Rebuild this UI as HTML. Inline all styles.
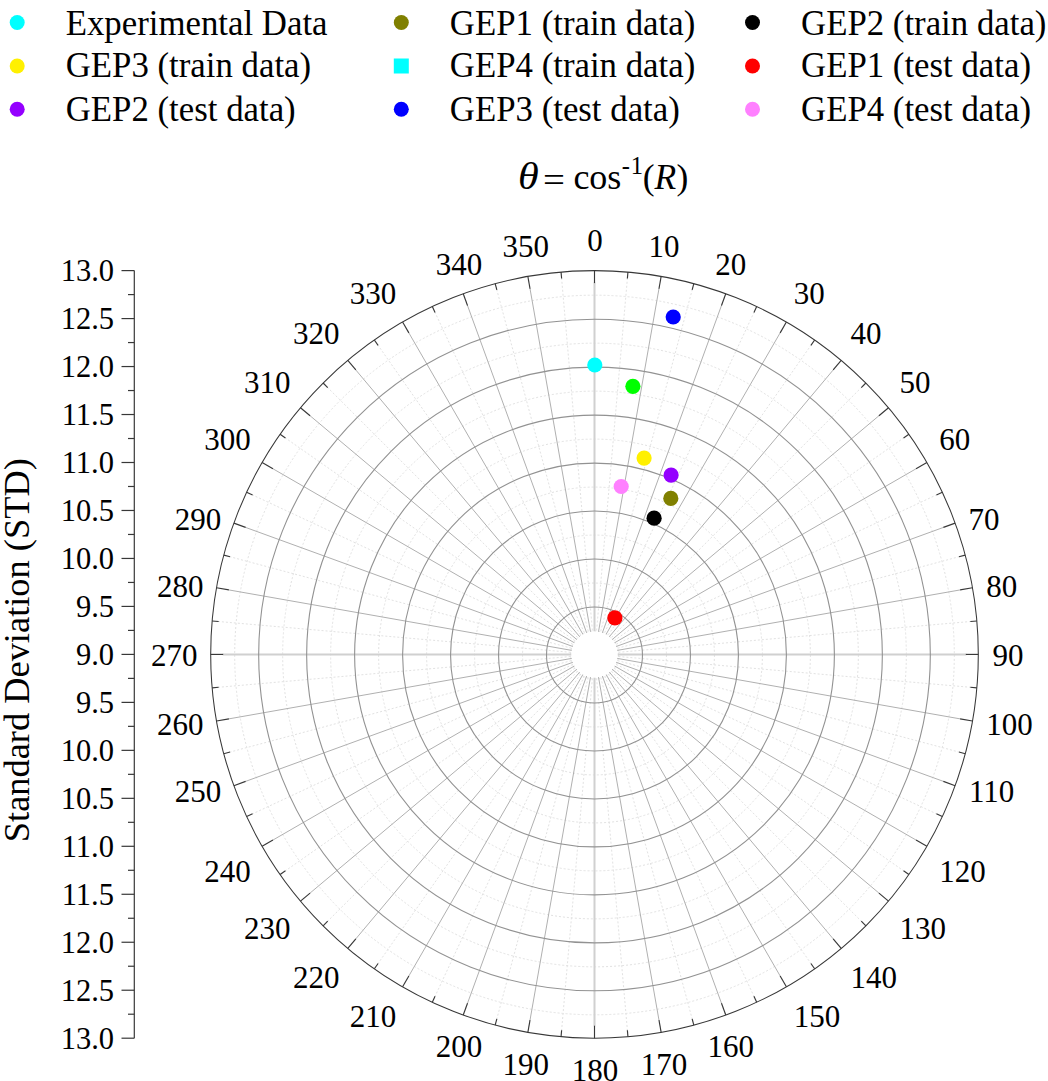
<!DOCTYPE html><html><head><meta charset="utf-8"><style>
html,body{margin:0;padding:0;background:#fff;}
svg{display:block;}
text{font-family:"Liberation Serif",serif;fill:#000;}
</style></head><body>
<svg width="1048" height="1081" viewBox="0 0 1048 1081">
<circle cx="594.5" cy="655.00" r="23.99" fill="none" stroke="#e2e2e2" stroke-width="1" stroke-dasharray="2,2"/>
<circle cx="594.5" cy="655.00" r="71.96" fill="none" stroke="#e2e2e2" stroke-width="1" stroke-dasharray="2,2"/>
<circle cx="594.5" cy="655.00" r="119.94" fill="none" stroke="#e2e2e2" stroke-width="1" stroke-dasharray="2,2"/>
<circle cx="594.5" cy="655.00" r="167.91" fill="none" stroke="#e2e2e2" stroke-width="1" stroke-dasharray="2,2"/>
<circle cx="594.5" cy="655.00" r="215.89" fill="none" stroke="#e2e2e2" stroke-width="1" stroke-dasharray="2,2"/>
<circle cx="594.5" cy="655.00" r="263.86" fill="none" stroke="#e2e2e2" stroke-width="1" stroke-dasharray="2,2"/>
<circle cx="594.5" cy="655.00" r="311.84" fill="none" stroke="#e2e2e2" stroke-width="1" stroke-dasharray="2,2"/>
<circle cx="594.5" cy="655.00" r="359.81" fill="none" stroke="#e2e2e2" stroke-width="1" stroke-dasharray="2,2"/>
<line x1="596.59" y1="630.49" x2="627.43" y2="278.04" stroke="#e2e2e2" stroke-width="1" stroke-dasharray="2,2"/>
<line x1="600.71" y1="631.22" x2="692.28" y2="289.47" stroke="#e2e2e2" stroke-width="1" stroke-dasharray="2,2"/>
<line x1="604.64" y1="632.65" x2="754.17" y2="312.00" stroke="#e2e2e2" stroke-width="1" stroke-dasharray="2,2"/>
<line x1="608.27" y1="634.74" x2="811.20" y2="344.92" stroke="#e2e2e2" stroke-width="1" stroke-dasharray="2,2"/>
<line x1="611.47" y1="637.43" x2="861.64" y2="387.26" stroke="#e2e2e2" stroke-width="1" stroke-dasharray="2,2"/>
<line x1="614.16" y1="640.63" x2="903.98" y2="437.70" stroke="#e2e2e2" stroke-width="1" stroke-dasharray="2,2"/>
<line x1="616.25" y1="644.26" x2="936.90" y2="494.73" stroke="#e2e2e2" stroke-width="1" stroke-dasharray="2,2"/>
<line x1="617.68" y1="648.19" x2="959.43" y2="556.62" stroke="#e2e2e2" stroke-width="1" stroke-dasharray="2,2"/>
<line x1="618.41" y1="652.31" x2="970.86" y2="621.47" stroke="#e2e2e2" stroke-width="1" stroke-dasharray="2,2"/>
<line x1="618.41" y1="656.49" x2="970.86" y2="687.33" stroke="#e2e2e2" stroke-width="1" stroke-dasharray="2,2"/>
<line x1="617.68" y1="660.61" x2="959.43" y2="752.18" stroke="#e2e2e2" stroke-width="1" stroke-dasharray="2,2"/>
<line x1="616.25" y1="664.54" x2="936.90" y2="814.07" stroke="#e2e2e2" stroke-width="1" stroke-dasharray="2,2"/>
<line x1="614.16" y1="668.17" x2="903.98" y2="871.10" stroke="#e2e2e2" stroke-width="1" stroke-dasharray="2,2"/>
<line x1="611.47" y1="671.37" x2="861.64" y2="921.54" stroke="#e2e2e2" stroke-width="1" stroke-dasharray="2,2"/>
<line x1="608.27" y1="674.06" x2="811.20" y2="963.88" stroke="#e2e2e2" stroke-width="1" stroke-dasharray="2,2"/>
<line x1="604.64" y1="676.15" x2="754.17" y2="996.80" stroke="#e2e2e2" stroke-width="1" stroke-dasharray="2,2"/>
<line x1="600.71" y1="677.58" x2="692.28" y2="1019.33" stroke="#e2e2e2" stroke-width="1" stroke-dasharray="2,2"/>
<line x1="596.59" y1="678.31" x2="627.43" y2="1030.76" stroke="#e2e2e2" stroke-width="1" stroke-dasharray="2,2"/>
<line x1="592.41" y1="678.31" x2="561.57" y2="1030.76" stroke="#e2e2e2" stroke-width="1" stroke-dasharray="2,2"/>
<line x1="588.29" y1="677.58" x2="496.72" y2="1019.33" stroke="#e2e2e2" stroke-width="1" stroke-dasharray="2,2"/>
<line x1="584.36" y1="676.15" x2="434.83" y2="996.80" stroke="#e2e2e2" stroke-width="1" stroke-dasharray="2,2"/>
<line x1="580.73" y1="674.06" x2="377.80" y2="963.88" stroke="#e2e2e2" stroke-width="1" stroke-dasharray="2,2"/>
<line x1="577.53" y1="671.37" x2="327.36" y2="921.54" stroke="#e2e2e2" stroke-width="1" stroke-dasharray="2,2"/>
<line x1="574.84" y1="668.17" x2="285.02" y2="871.10" stroke="#e2e2e2" stroke-width="1" stroke-dasharray="2,2"/>
<line x1="572.75" y1="664.54" x2="252.10" y2="814.07" stroke="#e2e2e2" stroke-width="1" stroke-dasharray="2,2"/>
<line x1="571.32" y1="660.61" x2="229.57" y2="752.18" stroke="#e2e2e2" stroke-width="1" stroke-dasharray="2,2"/>
<line x1="570.59" y1="656.49" x2="218.14" y2="687.33" stroke="#e2e2e2" stroke-width="1" stroke-dasharray="2,2"/>
<line x1="570.59" y1="652.31" x2="218.14" y2="621.47" stroke="#e2e2e2" stroke-width="1" stroke-dasharray="2,2"/>
<line x1="571.32" y1="648.19" x2="229.57" y2="556.62" stroke="#e2e2e2" stroke-width="1" stroke-dasharray="2,2"/>
<line x1="572.75" y1="644.26" x2="252.10" y2="494.73" stroke="#e2e2e2" stroke-width="1" stroke-dasharray="2,2"/>
<line x1="574.84" y1="640.63" x2="285.02" y2="437.70" stroke="#e2e2e2" stroke-width="1" stroke-dasharray="2,2"/>
<line x1="577.53" y1="637.43" x2="327.36" y2="387.26" stroke="#e2e2e2" stroke-width="1" stroke-dasharray="2,2"/>
<line x1="580.73" y1="634.74" x2="377.80" y2="344.92" stroke="#e2e2e2" stroke-width="1" stroke-dasharray="2,2"/>
<line x1="584.36" y1="632.65" x2="434.83" y2="312.00" stroke="#e2e2e2" stroke-width="1" stroke-dasharray="2,2"/>
<line x1="588.29" y1="631.22" x2="496.72" y2="289.47" stroke="#e2e2e2" stroke-width="1" stroke-dasharray="2,2"/>
<line x1="592.41" y1="630.49" x2="561.57" y2="278.04" stroke="#e2e2e2" stroke-width="1" stroke-dasharray="2,2"/>
<line x1="598.49" y1="631.75" x2="659.06" y2="288.25" stroke="#b0b0b0" stroke-width="1"/>
<line x1="602.37" y1="632.79" x2="721.66" y2="305.02" stroke="#b0b0b0" stroke-width="1"/>
<line x1="606.00" y1="634.48" x2="780.40" y2="332.41" stroke="#b0b0b0" stroke-width="1"/>
<line x1="609.28" y1="636.78" x2="833.49" y2="369.58" stroke="#b0b0b0" stroke-width="1"/>
<line x1="612.12" y1="639.62" x2="879.32" y2="415.41" stroke="#b0b0b0" stroke-width="1"/>
<line x1="614.42" y1="642.90" x2="916.49" y2="468.50" stroke="#b0b0b0" stroke-width="1"/>
<line x1="616.11" y1="646.53" x2="943.88" y2="527.24" stroke="#b0b0b0" stroke-width="1"/>
<line x1="617.15" y1="650.41" x2="960.65" y2="589.84" stroke="#b0b0b0" stroke-width="1"/>
<line x1="617.15" y1="658.39" x2="960.65" y2="718.96" stroke="#b0b0b0" stroke-width="1"/>
<line x1="616.11" y1="662.27" x2="943.88" y2="781.56" stroke="#b0b0b0" stroke-width="1"/>
<line x1="614.42" y1="665.90" x2="916.49" y2="840.30" stroke="#b0b0b0" stroke-width="1"/>
<line x1="612.12" y1="669.18" x2="879.32" y2="893.39" stroke="#b0b0b0" stroke-width="1"/>
<line x1="609.28" y1="672.02" x2="833.49" y2="939.22" stroke="#b0b0b0" stroke-width="1"/>
<line x1="606.00" y1="674.32" x2="780.40" y2="976.39" stroke="#b0b0b0" stroke-width="1"/>
<line x1="602.37" y1="676.01" x2="721.66" y2="1003.78" stroke="#b0b0b0" stroke-width="1"/>
<line x1="598.49" y1="677.05" x2="659.06" y2="1020.55" stroke="#b0b0b0" stroke-width="1"/>
<line x1="590.51" y1="677.05" x2="529.94" y2="1020.55" stroke="#b0b0b0" stroke-width="1"/>
<line x1="586.63" y1="676.01" x2="467.34" y2="1003.78" stroke="#b0b0b0" stroke-width="1"/>
<line x1="583.00" y1="674.32" x2="408.60" y2="976.39" stroke="#b0b0b0" stroke-width="1"/>
<line x1="579.72" y1="672.02" x2="355.51" y2="939.22" stroke="#b0b0b0" stroke-width="1"/>
<line x1="576.88" y1="669.18" x2="309.68" y2="893.39" stroke="#b0b0b0" stroke-width="1"/>
<line x1="574.58" y1="665.90" x2="272.51" y2="840.30" stroke="#b0b0b0" stroke-width="1"/>
<line x1="572.89" y1="662.27" x2="245.12" y2="781.56" stroke="#b0b0b0" stroke-width="1"/>
<line x1="571.85" y1="658.39" x2="228.35" y2="718.96" stroke="#b0b0b0" stroke-width="1"/>
<line x1="571.85" y1="650.41" x2="228.35" y2="589.84" stroke="#b0b0b0" stroke-width="1"/>
<line x1="572.89" y1="646.53" x2="245.12" y2="527.24" stroke="#b0b0b0" stroke-width="1"/>
<line x1="574.58" y1="642.90" x2="272.51" y2="468.50" stroke="#b0b0b0" stroke-width="1"/>
<line x1="576.88" y1="639.62" x2="309.68" y2="415.41" stroke="#b0b0b0" stroke-width="1"/>
<line x1="579.72" y1="636.78" x2="355.51" y2="369.58" stroke="#b0b0b0" stroke-width="1"/>
<line x1="583.00" y1="634.48" x2="408.60" y2="332.41" stroke="#b0b0b0" stroke-width="1"/>
<line x1="586.63" y1="632.79" x2="467.34" y2="305.02" stroke="#b0b0b0" stroke-width="1"/>
<line x1="590.51" y1="631.75" x2="529.94" y2="288.25" stroke="#b0b0b0" stroke-width="1"/>
<line x1="594.50" y1="631.40" x2="594.50" y2="282.60" stroke="#d0d0d0" stroke-width="2"/>
<line x1="617.50" y1="654.40" x2="966.30" y2="654.40" stroke="#d0d0d0" stroke-width="2"/>
<line x1="594.50" y1="677.40" x2="594.50" y2="1026.20" stroke="#d0d0d0" stroke-width="2"/>
<line x1="571.50" y1="654.40" x2="222.70" y2="654.40" stroke="#d0d0d0" stroke-width="2"/>
<circle cx="594.5" cy="655.00" r="47.98" fill="none" stroke="#929292" stroke-width="1.1"/>
<circle cx="594.5" cy="655.00" r="95.95" fill="none" stroke="#929292" stroke-width="1.1"/>
<circle cx="594.5" cy="655.00" r="143.93" fill="none" stroke="#929292" stroke-width="1.1"/>
<circle cx="594.5" cy="655.00" r="191.90" fill="none" stroke="#929292" stroke-width="1.1"/>
<circle cx="594.5" cy="655.00" r="239.88" fill="none" stroke="#929292" stroke-width="1.1"/>
<circle cx="594.5" cy="655.00" r="287.85" fill="none" stroke="#929292" stroke-width="1.1"/>
<circle cx="594.5" cy="655.00" r="335.82" fill="none" stroke="#929292" stroke-width="1.1"/>
<circle cx="594.5" cy="654.4" r="23" fill="#fff"/>
<circle cx="594.5" cy="654.4" r="383.8" fill="none" stroke="#383838" stroke-width="1.05"/>
<line x1="594.50" y1="270.60" x2="594.50" y2="283.10" stroke="#383838" stroke-width="1.15"/>
<line x1="627.95" y1="272.06" x2="627.38" y2="278.54" stroke="#383838" stroke-width="1.15"/>
<line x1="661.15" y1="276.43" x2="658.98" y2="288.74" stroke="#383838" stroke-width="1.15"/>
<line x1="693.83" y1="283.68" x2="692.15" y2="289.96" stroke="#383838" stroke-width="1.15"/>
<line x1="725.77" y1="293.75" x2="721.49" y2="305.49" stroke="#383838" stroke-width="1.15"/>
<line x1="756.70" y1="306.56" x2="753.95" y2="312.45" stroke="#383838" stroke-width="1.15"/>
<line x1="786.40" y1="322.02" x2="780.15" y2="332.84" stroke="#383838" stroke-width="1.15"/>
<line x1="814.64" y1="340.01" x2="810.91" y2="345.33" stroke="#383838" stroke-width="1.15"/>
<line x1="841.20" y1="360.39" x2="833.17" y2="369.97" stroke="#383838" stroke-width="1.15"/>
<line x1="865.89" y1="383.01" x2="861.29" y2="387.61" stroke="#383838" stroke-width="1.15"/>
<line x1="888.51" y1="407.70" x2="878.93" y2="415.73" stroke="#383838" stroke-width="1.15"/>
<line x1="908.89" y1="434.26" x2="903.57" y2="437.99" stroke="#383838" stroke-width="1.15"/>
<line x1="926.88" y1="462.50" x2="916.06" y2="468.75" stroke="#383838" stroke-width="1.15"/>
<line x1="942.34" y1="492.20" x2="936.45" y2="494.95" stroke="#383838" stroke-width="1.15"/>
<line x1="955.15" y1="523.13" x2="943.41" y2="527.41" stroke="#383838" stroke-width="1.15"/>
<line x1="965.22" y1="555.07" x2="958.94" y2="556.75" stroke="#383838" stroke-width="1.15"/>
<line x1="972.47" y1="587.75" x2="960.16" y2="589.92" stroke="#383838" stroke-width="1.15"/>
<line x1="976.84" y1="620.95" x2="970.36" y2="621.52" stroke="#383838" stroke-width="1.15"/>
<line x1="978.30" y1="654.40" x2="965.80" y2="654.40" stroke="#383838" stroke-width="1.15"/>
<line x1="976.84" y1="687.85" x2="970.36" y2="687.28" stroke="#383838" stroke-width="1.15"/>
<line x1="972.47" y1="721.05" x2="960.16" y2="718.88" stroke="#383838" stroke-width="1.15"/>
<line x1="965.22" y1="753.73" x2="958.94" y2="752.05" stroke="#383838" stroke-width="1.15"/>
<line x1="955.15" y1="785.67" x2="943.41" y2="781.39" stroke="#383838" stroke-width="1.15"/>
<line x1="942.34" y1="816.60" x2="936.45" y2="813.85" stroke="#383838" stroke-width="1.15"/>
<line x1="926.88" y1="846.30" x2="916.06" y2="840.05" stroke="#383838" stroke-width="1.15"/>
<line x1="908.89" y1="874.54" x2="903.57" y2="870.81" stroke="#383838" stroke-width="1.15"/>
<line x1="888.51" y1="901.10" x2="878.93" y2="893.07" stroke="#383838" stroke-width="1.15"/>
<line x1="865.89" y1="925.79" x2="861.29" y2="921.19" stroke="#383838" stroke-width="1.15"/>
<line x1="841.20" y1="948.41" x2="833.17" y2="938.83" stroke="#383838" stroke-width="1.15"/>
<line x1="814.64" y1="968.79" x2="810.91" y2="963.47" stroke="#383838" stroke-width="1.15"/>
<line x1="786.40" y1="986.78" x2="780.15" y2="975.96" stroke="#383838" stroke-width="1.15"/>
<line x1="756.70" y1="1002.24" x2="753.95" y2="996.35" stroke="#383838" stroke-width="1.15"/>
<line x1="725.77" y1="1015.05" x2="721.49" y2="1003.31" stroke="#383838" stroke-width="1.15"/>
<line x1="693.83" y1="1025.12" x2="692.15" y2="1018.84" stroke="#383838" stroke-width="1.15"/>
<line x1="661.15" y1="1032.37" x2="658.98" y2="1020.06" stroke="#383838" stroke-width="1.15"/>
<line x1="627.95" y1="1036.74" x2="627.38" y2="1030.26" stroke="#383838" stroke-width="1.15"/>
<line x1="594.50" y1="1038.20" x2="594.50" y2="1025.70" stroke="#383838" stroke-width="1.15"/>
<line x1="561.05" y1="1036.74" x2="561.62" y2="1030.26" stroke="#383838" stroke-width="1.15"/>
<line x1="527.85" y1="1032.37" x2="530.02" y2="1020.06" stroke="#383838" stroke-width="1.15"/>
<line x1="495.17" y1="1025.12" x2="496.85" y2="1018.84" stroke="#383838" stroke-width="1.15"/>
<line x1="463.23" y1="1015.05" x2="467.51" y2="1003.31" stroke="#383838" stroke-width="1.15"/>
<line x1="432.30" y1="1002.24" x2="435.05" y2="996.35" stroke="#383838" stroke-width="1.15"/>
<line x1="402.60" y1="986.78" x2="408.85" y2="975.96" stroke="#383838" stroke-width="1.15"/>
<line x1="374.36" y1="968.79" x2="378.09" y2="963.47" stroke="#383838" stroke-width="1.15"/>
<line x1="347.80" y1="948.41" x2="355.83" y2="938.83" stroke="#383838" stroke-width="1.15"/>
<line x1="323.11" y1="925.79" x2="327.71" y2="921.19" stroke="#383838" stroke-width="1.15"/>
<line x1="300.49" y1="901.10" x2="310.07" y2="893.07" stroke="#383838" stroke-width="1.15"/>
<line x1="280.11" y1="874.54" x2="285.43" y2="870.81" stroke="#383838" stroke-width="1.15"/>
<line x1="262.12" y1="846.30" x2="272.94" y2="840.05" stroke="#383838" stroke-width="1.15"/>
<line x1="246.66" y1="816.60" x2="252.55" y2="813.85" stroke="#383838" stroke-width="1.15"/>
<line x1="233.85" y1="785.67" x2="245.59" y2="781.39" stroke="#383838" stroke-width="1.15"/>
<line x1="223.78" y1="753.73" x2="230.06" y2="752.05" stroke="#383838" stroke-width="1.15"/>
<line x1="216.53" y1="721.05" x2="228.84" y2="718.88" stroke="#383838" stroke-width="1.15"/>
<line x1="212.16" y1="687.85" x2="218.64" y2="687.28" stroke="#383838" stroke-width="1.15"/>
<line x1="210.70" y1="654.40" x2="223.20" y2="654.40" stroke="#383838" stroke-width="1.15"/>
<line x1="212.16" y1="620.95" x2="218.64" y2="621.52" stroke="#383838" stroke-width="1.15"/>
<line x1="216.53" y1="587.75" x2="228.84" y2="589.92" stroke="#383838" stroke-width="1.15"/>
<line x1="223.78" y1="555.07" x2="230.06" y2="556.75" stroke="#383838" stroke-width="1.15"/>
<line x1="233.85" y1="523.13" x2="245.59" y2="527.41" stroke="#383838" stroke-width="1.15"/>
<line x1="246.66" y1="492.20" x2="252.55" y2="494.95" stroke="#383838" stroke-width="1.15"/>
<line x1="262.12" y1="462.50" x2="272.94" y2="468.75" stroke="#383838" stroke-width="1.15"/>
<line x1="280.11" y1="434.26" x2="285.43" y2="437.99" stroke="#383838" stroke-width="1.15"/>
<line x1="300.49" y1="407.70" x2="310.07" y2="415.73" stroke="#383838" stroke-width="1.15"/>
<line x1="323.11" y1="383.01" x2="327.71" y2="387.61" stroke="#383838" stroke-width="1.15"/>
<line x1="347.80" y1="360.39" x2="355.83" y2="369.97" stroke="#383838" stroke-width="1.15"/>
<line x1="374.36" y1="340.01" x2="378.09" y2="345.33" stroke="#383838" stroke-width="1.15"/>
<line x1="402.60" y1="322.02" x2="408.85" y2="332.84" stroke="#383838" stroke-width="1.15"/>
<line x1="432.30" y1="306.56" x2="435.05" y2="312.45" stroke="#383838" stroke-width="1.15"/>
<line x1="463.23" y1="293.75" x2="467.51" y2="305.49" stroke="#383838" stroke-width="1.15"/>
<line x1="495.17" y1="283.68" x2="496.85" y2="289.96" stroke="#383838" stroke-width="1.15"/>
<line x1="527.85" y1="276.43" x2="530.02" y2="288.74" stroke="#383838" stroke-width="1.15"/>
<line x1="561.05" y1="272.06" x2="561.62" y2="278.54" stroke="#383838" stroke-width="1.15"/>
<text x="594.90" y="251.13" font-size="31" text-anchor="middle">0</text>
<text x="663.93" y="257.17" font-size="31" text-anchor="middle">10</text>
<text x="730.85" y="275.10" font-size="31" text-anchor="middle">20</text>
<text x="809.15" y="304.38" font-size="31" text-anchor="middle">30</text>
<text x="865.91" y="344.13" font-size="31" text-anchor="middle">40</text>
<text x="914.90" y="393.12" font-size="31" text-anchor="middle">50</text>
<text x="954.65" y="449.88" font-size="31" text-anchor="middle">60</text>
<text x="983.93" y="529.98" font-size="31" text-anchor="middle">70</text>
<text x="1001.86" y="596.90" font-size="31" text-anchor="middle">80</text>
<text x="1007.90" y="665.93" font-size="31" text-anchor="middle">90</text>
<text x="1009.61" y="734.96" font-size="31" text-anchor="middle">100</text>
<text x="991.68" y="801.88" font-size="31" text-anchor="middle">110</text>
<text x="962.40" y="881.98" font-size="31" text-anchor="middle">120</text>
<text x="922.65" y="938.74" font-size="31" text-anchor="middle">130</text>
<text x="873.66" y="987.73" font-size="31" text-anchor="middle">140</text>
<text x="816.90" y="1027.48" font-size="31" text-anchor="middle">150</text>
<text x="730.85" y="1056.76" font-size="31" text-anchor="middle">160</text>
<text x="663.93" y="1074.69" font-size="31" text-anchor="middle">170</text>
<text x="594.90" y="1080.73" font-size="31" text-anchor="middle">180</text>
<text x="525.87" y="1074.69" font-size="31" text-anchor="middle">190</text>
<text x="458.95" y="1056.76" font-size="31" text-anchor="middle">200</text>
<text x="372.90" y="1027.48" font-size="31" text-anchor="middle">210</text>
<text x="316.14" y="987.73" font-size="31" text-anchor="middle">220</text>
<text x="267.15" y="938.74" font-size="31" text-anchor="middle">230</text>
<text x="227.40" y="881.98" font-size="31" text-anchor="middle">240</text>
<text x="198.12" y="801.88" font-size="31" text-anchor="middle">250</text>
<text x="180.19" y="734.96" font-size="31" text-anchor="middle">260</text>
<text x="174.15" y="665.93" font-size="31" text-anchor="middle">270</text>
<text x="180.19" y="596.90" font-size="31" text-anchor="middle">280</text>
<text x="198.12" y="529.98" font-size="31" text-anchor="middle">290</text>
<text x="227.40" y="449.88" font-size="31" text-anchor="middle">300</text>
<text x="267.15" y="393.12" font-size="31" text-anchor="middle">310</text>
<text x="316.14" y="344.13" font-size="31" text-anchor="middle">320</text>
<text x="372.90" y="304.38" font-size="31" text-anchor="middle">330</text>
<text x="458.95" y="275.10" font-size="31" text-anchor="middle">340</text>
<text x="525.87" y="257.17" font-size="31" text-anchor="middle">350</text>
<line x1="134.3" y1="270.60" x2="134.3" y2="1038.20" stroke="#383838" stroke-width="1.2"/>
<line x1="121.50" y1="270.60" x2="134.3" y2="270.60" stroke="#383838" stroke-width="1.2"/>
<text x="114.0" y="281.46" font-size="30.5" text-anchor="end">13.0</text>
<line x1="128.00" y1="294.59" x2="134.3" y2="294.59" stroke="#383838" stroke-width="1.2"/>
<line x1="121.50" y1="318.57" x2="134.3" y2="318.57" stroke="#383838" stroke-width="1.2"/>
<text x="114.0" y="329.44" font-size="30.5" text-anchor="end">12.5</text>
<line x1="128.00" y1="342.56" x2="134.3" y2="342.56" stroke="#383838" stroke-width="1.2"/>
<line x1="121.50" y1="366.55" x2="134.3" y2="366.55" stroke="#383838" stroke-width="1.2"/>
<text x="114.0" y="377.41" font-size="30.5" text-anchor="end">12.0</text>
<line x1="128.00" y1="390.54" x2="134.3" y2="390.54" stroke="#383838" stroke-width="1.2"/>
<line x1="121.50" y1="414.52" x2="134.3" y2="414.52" stroke="#383838" stroke-width="1.2"/>
<text x="114.0" y="425.39" font-size="30.5" text-anchor="end">11.5</text>
<line x1="128.00" y1="438.51" x2="134.3" y2="438.51" stroke="#383838" stroke-width="1.2"/>
<line x1="121.50" y1="462.50" x2="134.3" y2="462.50" stroke="#383838" stroke-width="1.2"/>
<text x="114.0" y="473.37" font-size="30.5" text-anchor="end">11.0</text>
<line x1="128.00" y1="486.49" x2="134.3" y2="486.49" stroke="#383838" stroke-width="1.2"/>
<line x1="121.50" y1="510.47" x2="134.3" y2="510.47" stroke="#383838" stroke-width="1.2"/>
<text x="114.0" y="521.34" font-size="30.5" text-anchor="end">10.5</text>
<line x1="128.00" y1="534.46" x2="134.3" y2="534.46" stroke="#383838" stroke-width="1.2"/>
<line x1="121.50" y1="558.45" x2="134.3" y2="558.45" stroke="#383838" stroke-width="1.2"/>
<text x="114.0" y="569.32" font-size="30.5" text-anchor="end">10.0</text>
<line x1="128.00" y1="582.44" x2="134.3" y2="582.44" stroke="#383838" stroke-width="1.2"/>
<line x1="121.50" y1="606.42" x2="134.3" y2="606.42" stroke="#383838" stroke-width="1.2"/>
<text x="114.0" y="617.29" font-size="30.5" text-anchor="end">9.5</text>
<line x1="128.00" y1="630.41" x2="134.3" y2="630.41" stroke="#383838" stroke-width="1.2"/>
<line x1="121.50" y1="654.40" x2="134.3" y2="654.40" stroke="#383838" stroke-width="1.2"/>
<text x="114.0" y="665.26" font-size="30.5" text-anchor="end">9.0</text>
<line x1="128.00" y1="678.39" x2="134.3" y2="678.39" stroke="#383838" stroke-width="1.2"/>
<line x1="121.50" y1="702.38" x2="134.3" y2="702.38" stroke="#383838" stroke-width="1.2"/>
<text x="114.0" y="713.24" font-size="30.5" text-anchor="end">9.5</text>
<line x1="128.00" y1="726.36" x2="134.3" y2="726.36" stroke="#383838" stroke-width="1.2"/>
<line x1="121.50" y1="750.35" x2="134.3" y2="750.35" stroke="#383838" stroke-width="1.2"/>
<text x="114.0" y="761.21" font-size="30.5" text-anchor="end">10.0</text>
<line x1="128.00" y1="774.34" x2="134.3" y2="774.34" stroke="#383838" stroke-width="1.2"/>
<line x1="121.50" y1="798.33" x2="134.3" y2="798.33" stroke="#383838" stroke-width="1.2"/>
<text x="114.0" y="809.19" font-size="30.5" text-anchor="end">10.5</text>
<line x1="128.00" y1="822.31" x2="134.3" y2="822.31" stroke="#383838" stroke-width="1.2"/>
<line x1="121.50" y1="846.30" x2="134.3" y2="846.30" stroke="#383838" stroke-width="1.2"/>
<text x="114.0" y="857.16" font-size="30.5" text-anchor="end">11.0</text>
<line x1="128.00" y1="870.29" x2="134.3" y2="870.29" stroke="#383838" stroke-width="1.2"/>
<line x1="121.50" y1="894.28" x2="134.3" y2="894.28" stroke="#383838" stroke-width="1.2"/>
<text x="114.0" y="905.14" font-size="30.5" text-anchor="end">11.5</text>
<line x1="128.00" y1="918.26" x2="134.3" y2="918.26" stroke="#383838" stroke-width="1.2"/>
<line x1="121.50" y1="942.25" x2="134.3" y2="942.25" stroke="#383838" stroke-width="1.2"/>
<text x="114.0" y="953.12" font-size="30.5" text-anchor="end">12.0</text>
<line x1="128.00" y1="966.24" x2="134.3" y2="966.24" stroke="#383838" stroke-width="1.2"/>
<line x1="121.50" y1="990.22" x2="134.3" y2="990.22" stroke="#383838" stroke-width="1.2"/>
<text x="114.0" y="1001.09" font-size="30.5" text-anchor="end">12.5</text>
<line x1="128.00" y1="1014.21" x2="134.3" y2="1014.21" stroke="#383838" stroke-width="1.2"/>
<line x1="121.50" y1="1038.20" x2="134.3" y2="1038.20" stroke="#383838" stroke-width="1.2"/>
<text x="114.0" y="1049.07" font-size="30.5" text-anchor="end">13.0</text>
<text transform="translate(28.5,650.2) rotate(-90)" font-size="36.4" text-anchor="middle">Standard Deviation (STD)</text>
<text x="518.0" y="188.6" font-size="37.4" font-style="italic" transform="translate(518.0,0) scale(1.13,1) translate(-518.0,0)">θ</text>
<text x="543.0" y="191.9" font-size="36" transform="translate(543,0) scale(1.08,1) translate(-543,0)">=</text>
<text x="573.4" y="188.6" font-size="36">cos</text>
<text x="621.8" y="173.8" font-size="24.5">-</text>
<text x="630.7" y="173.8" font-size="24.5">1</text>
<text x="642.7" y="188.6" font-size="35.5">(</text>
<text x="654.4" y="188.6" font-size="35.5" font-style="italic">R</text>
<text x="676.6" y="188.6" font-size="35.5">)</text>
<circle cx="17.2" cy="22.5" r="7.5" fill="#00ffff"/>
<text x="65.7" y="34.7" font-size="34.8">Experimental Data</text>
<circle cx="401.3" cy="22.5" r="7.5" fill="#808000"/>
<text x="449.8" y="34.7" font-size="34.8">GEP1 (train data)</text>
<circle cx="752.5" cy="22.5" r="7.5" fill="#000000"/>
<text x="801.0" y="34.7" font-size="34.8">GEP2 (train data)</text>
<circle cx="17.2" cy="66.0" r="7.5" fill="#fff000"/>
<text x="65.7" y="77.3" font-size="34.8">GEP3 (train data)</text>
<rect x="393.8" y="58.5" width="15" height="15" fill="#00ffff"/>
<text x="449.8" y="77.3" font-size="34.8">GEP4 (train data)</text>
<circle cx="752.5" cy="66.0" r="7.5" fill="#ff0000"/>
<text x="801.0" y="77.3" font-size="34.8">GEP1 (test data)</text>
<circle cx="17.2" cy="109.2" r="7.5" fill="#9400ff"/>
<text x="65.7" y="121.0" font-size="34.8">GEP2 (test data)</text>
<circle cx="401.3" cy="109.2" r="7.5" fill="#0000ff"/>
<text x="449.8" y="121.0" font-size="34.8">GEP3 (test data)</text>
<circle cx="752.5" cy="109.2" r="7.5" fill="#ff80ff"/>
<text x="801.0" y="121.0" font-size="34.8">GEP4 (test data)</text>
<circle cx="673.2" cy="317.0" r="7.6" fill="#0000ff"/>
<circle cx="594.8" cy="365.0" r="7.6" fill="#00ffff"/>
<circle cx="632.9" cy="386.3" r="7.6" fill="#00ff00"/>
<circle cx="644.1" cy="458.1" r="7.6" fill="#fff000"/>
<circle cx="671.1" cy="475.1" r="7.6" fill="#9400ff"/>
<circle cx="621.2" cy="486.5" r="7.6" fill="#ff80ff"/>
<circle cx="670.8" cy="498.4" r="7.6" fill="#808000"/>
<circle cx="654.1" cy="518.2" r="7.6" fill="#000000"/>
<circle cx="614.9" cy="617.9" r="7.6" fill="#ff0000"/>
</svg></body></html>
